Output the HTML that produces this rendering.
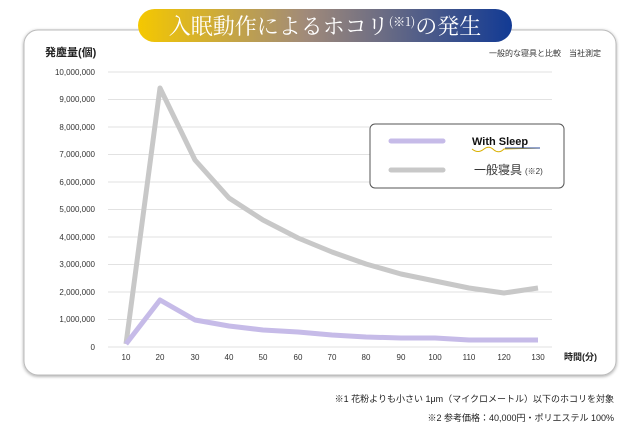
<!DOCTYPE html>
<html><head><meta charset="utf-8"><style>
body{margin:0;background:#fff;width:640px;height:436px;overflow:hidden;font-family:"Liberation Sans","Noto Sans CJK JP",sans-serif;}
</style></head><body>
<svg width="640" height="436" xmlns="http://www.w3.org/2000/svg" style="position:absolute;left:0;top:0">
<defs>
<linearGradient id="g" x1="0" x2="1" y1="0" y2="0">
<stop offset="0" stop-color="#f5c800"/><stop offset="0.45" stop-color="#a08a7a"/><stop offset="1" stop-color="#123a94"/>
</linearGradient>
<filter id="s" x="-5%" y="-5%" width="110%" height="110%"><feDropShadow dx="0" dy="1" stdDeviation="1.5" flood-color="#000" flood-opacity="0.35"/></filter>
</defs>
<rect x="24" y="30" width="592" height="345" rx="14" fill="#fff" stroke="#bbb" stroke-width="1" filter="url(#s)"/>
<rect x="138" y="9" width="374" height="33" rx="16.5" fill="url(#g)"/>
<text x="325" y="34" text-anchor="middle" fill="#fff" font-family="Noto Serif CJK SC, serif" font-size="22">入眠動作によるホコリ<tspan font-size="12" dy="-8">(※1)</tspan><tspan dy="8">の発生</tspan></text>
<text x="45" y="56" font-size="11" fill="#222" font-weight="bold">発塵量(個)</text>
<text x="601" y="56" font-size="8" fill="#333" text-anchor="end">一般的な寝具と比較　当社測定</text>
<g font-size="8" fill="#333" text-anchor="end">
<text x="95" y="75">10,000,000</text><text x="95" y="102">9,000,000</text><text x="95" y="130">8,000,000</text><text x="95" y="157">7,000,000</text><text x="95" y="185">6,000,000</text><text x="95" y="212">5,000,000</text><text x="95" y="240">4,000,000</text><text x="95" y="267">3,000,000</text><text x="95" y="295">2,000,000</text><text x="95" y="322">1,000,000</text><text x="95" y="350">0</text>
</g>
<g stroke="#e2e2e2" stroke-width="1">
<line x1="108" x2="552" y1="72" y2="72"/><line x1="108" x2="552" y1="99.5" y2="99.5"/><line x1="108" x2="552" y1="127" y2="127"/><line x1="108" x2="552" y1="154.5" y2="154.5"/><line x1="108" x2="552" y1="182" y2="182"/><line x1="108" x2="552" y1="209.5" y2="209.5"/><line x1="108" x2="552" y1="237" y2="237"/><line x1="108" x2="552" y1="264.5" y2="264.5"/><line x1="108" x2="552" y1="292" y2="292"/><line x1="108" x2="552" y1="319.5" y2="319.5"/><line x1="108" x2="552" y1="347" y2="347"/>
</g>
<g font-size="8" fill="#333" text-anchor="middle">
<text x="126" y="360">10</text><text x="160" y="360">20</text><text x="195" y="360">30</text><text x="229" y="360">40</text><text x="263" y="360">50</text><text x="298" y="360">60</text><text x="332" y="360">70</text><text x="366" y="360">80</text><text x="401" y="360">90</text><text x="435" y="360">100</text><text x="469" y="360">110</text><text x="504" y="360">120</text><text x="538" y="360">130</text>
</g>
<text x="564" y="360" font-size="9" fill="#222" font-weight="bold">時間(分)</text>
<polyline fill="none" stroke="#c8c8c8" stroke-width="5" stroke-linejoin="round" points="126,344 160,88 195,160 229,198 263,220 298,238 332,252 366,264 401,274 435,281 469,288 504,293 538,288"/>
<polyline fill="none" stroke="#c6bbe8" stroke-width="5" stroke-linejoin="round" points="126,344 160,300 195,320 229,326 263,330 298,332 332,335 366,337 401,338 435,338 469,340 504,340 538,340"/>
<rect x="370" y="124" width="194" height="64" rx="5" fill="#fff" stroke="#555" stroke-width="1"/>
<line x1="391" x2="443" y1="141" y2="141" stroke="#c6bbe8" stroke-width="5" stroke-linecap="round"/>
<line x1="391" x2="443" y1="170" y2="170" stroke="#c8c8c8" stroke-width="5" stroke-linecap="round"/>
<text x="472" y="145" font-size="11" font-weight="bold" fill="#111">With Sleep</text>
<path d="M472 149 q6 5 12 0 q5 -4 10 1 q5 4 10 -1 L540 148" fill="none" stroke="#d9b000" stroke-width="1"/>
<path d="M505 148 L540 148" stroke="#2a4a9a" stroke-width="1"/>
<text x="474" y="174" font-size="12" fill="#333">一般寝具</text>
<text x="525" y="174" font-size="8" fill="#333">(※2)</text>
<text x="614" y="402" font-size="9" fill="#222" text-anchor="end">※1 花粉よりも小さい 1μm（マイクロメートル）以下のホコリを対象</text>
<text x="614" y="421" font-size="9" fill="#222" text-anchor="end">※2 参考価格：40,000円・ポリエステル 100%</text>
</svg>
</body></html>
